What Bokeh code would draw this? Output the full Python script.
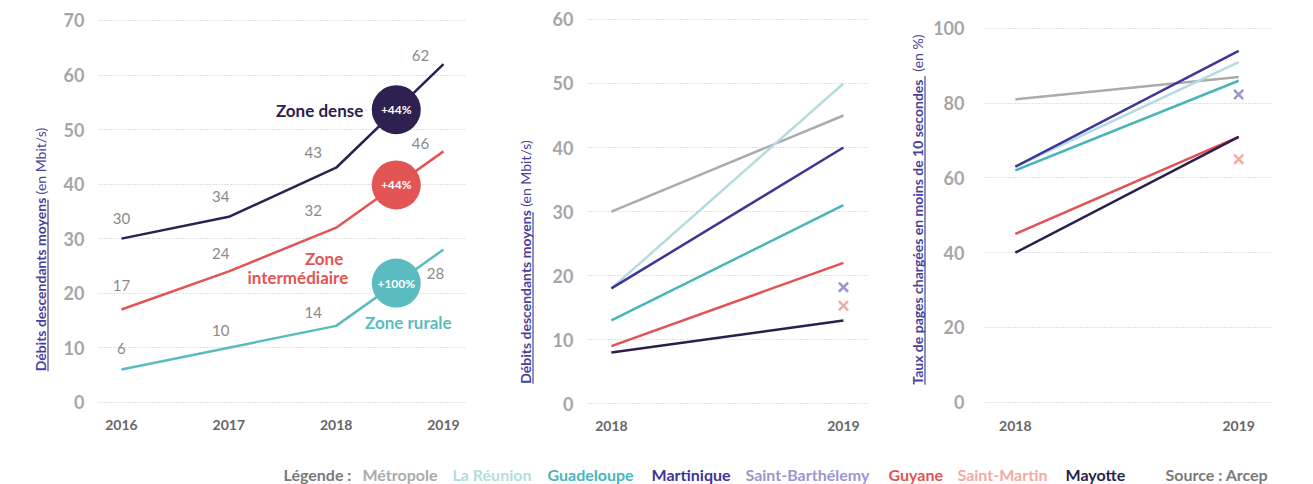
import numpy as np
from bokeh.plotting import figure
from bokeh.layouts import row, column
from bokeh.models import FixedTicker, Range1d
from bokeh.core.properties import value
from bokeh.embed import file_html
from bokeh.resources import INLINE

FONT = "Lato"

# ---------------- data ----------------
years_zones = [2016, 2017, 2018, 2019]
zone_dense = [30, 34, 43, 62]
zone_intermediaire = [17, 24, 32, 46]
zone_rurale = [6, 10, 14, 28]

years_dom = [2018, 2019]
territoires = ["Métropole", "La Réunion", "Guadeloupe", "Martinique",
               "Saint-Barthélemy", "Guyane", "Saint-Martin", "Mayotte"]
debit_2018 = [30, 18, 13, 18, None, 9, None, 8]
debit_2019 = [45, 50, 31, 40, 18.2, 22, 15.3, 13]
pages_2018 = [81, 63, 62, 63, None, 45, None, 40]
pages_2019 = [87, 91, 86, 94, 82.3, 71, 65, 71]

y_ticks_p1 = [0, 10, 20, 30, 40, 50, 60, 70]
y_ticks_p2 = [0, 10, 20, 30, 40, 50, 60]
y_ticks_p3 = [0, 20, 40, 60, 80, 100]

# ---------------- styles ----------------
ter_colors = ["#ababab", "#b2dcdf", "#46b6b9", "#3f3594",
              "#9c96cf", "#e25252", "#f4aaa1", "#2b1e4c"]
zone_colors = ["#2e2050", "#e35454", "#5bbcbf"]
TITLE_C = "#4b3f9a"
YTICK_C = "#a6a6a6"
XTICK_C = "#666666"
NUM_C = "#8a8a8a"
H = 452


def base_panel(width, xr, yr, yticks, xticks, bl, br, bb, ystand, xstand):
    p = figure(width=width, height=H, x_range=Range1d(*xr), y_range=Range1d(*yr),
               output_backend="svg", toolbar_location=None,
               min_border_left=bl, min_border_right=br, min_border_top=8,
               min_border_bottom=bb)
    p.outline_line_color = None
    p.xgrid.visible = False
    p.ygrid.grid_line_color = "#c2c2c2"
    p.ygrid.grid_line_dash = "1 2"
    p.ygrid.grid_line_width = 1
    p.yaxis.ticker = FixedTicker(ticks=yticks)
    p.xaxis.ticker = FixedTicker(ticks=xticks)
    p.xaxis.major_label_overrides = {t: str(t) for t in xticks}
    for ax in (p.xaxis, p.yaxis):
        ax.axis_line_color = None
        ax.major_tick_line_color = None
        ax.minor_tick_line_color = None
        ax.major_tick_in = 0
        ax.major_tick_out = 0
        ax.minor_tick_in = 0
        ax.minor_tick_out = 0
        ax.major_label_text_font = FONT
        ax.major_label_text_font_style = "bold"
    p.yaxis.major_label_text_font_size = "18px"
    p.yaxis.major_label_text_color = YTICK_C
    p.yaxis.major_label_standoff = ystand
    p.xaxis.major_label_text_font_size = "14px"
    p.xaxis.major_label_text_color = XTICK_C
    p.xaxis.major_label_standoff = xstand
    return p


def title_strip(width, x, y0, bold_text, bold_len, light_text, light_gap):
    s = figure(width=width, height=H, x_range=Range1d(0, width), y_range=Range1d(0, H),
               x_axis_type=None, y_axis_type=None, output_backend="svg",
               toolbar_location=None, min_border=0)
    s.outline_line_color = None
    s.grid.visible = False
    s.text(x=[x], y=[y0], text=[bold_text], angle=np.pi / 2, text_align="left",
           text_baseline="middle", text_font=value(FONT), text_font_style="bold",
           text_font_size="14px", text_color=TITLE_C)
    s.segment(x0=[x + 7.5], y0=[y0], x1=[x + 7.5], y1=[y0 + bold_len],
              line_color=TITLE_C, line_width=1.5, line_alpha=0.8)
    s.text(x=[x], y=[y0 + bold_len + light_gap], text=[light_text], angle=np.pi / 2,
           text_align="left", text_baseline="middle", text_font=value(FONT),
           text_font_size="14px", text_color=TITLE_C)
    return s


# ---------------- panel 1 ----------------
p1 = base_panel(424, (2015.786, 2019.205), (-1.52, 72.2), y_ticks_p1, years_zones,
                42, 15, 42, 14, 9)
series = [zone_dense, zone_intermediaire, zone_rurale]
label_dx = [[0, -8, -23, -23], [0, -8, -23, -23], [0, -8, -23, -8]]
label_dy = [[-20, -20, -15, -9], [-24, -18, -17, -8], [-21, -17, -13, 24]]
for vals, col, dx, dy in zip(series, zone_colors, label_dx, label_dy):
    p1.line(years_zones, vals, line_color=col, line_width=2.5)
    p1.text(x=years_zones, y=vals, text=[str(v) for v in vals], x_offset=dx, y_offset=dy,
            text_align="center", text_baseline="middle", text_font=value(FONT),
            text_font_size="15px", text_color=NUM_C)

t = 0.56
for vals, col in zip(series, zone_colors):
    cx = years_zones[-2] + t * (years_zones[-1] - years_zones[-2])
    cy = vals[-2] + t * (vals[-1] - vals[-2])
    growth = round((vals[-1] - vals[-2]) / vals[-2] * 100)
    p1.scatter([cx], [cy], size=49, fill_color=col, line_color=None)
    p1.text(x=[cx], y=[cy], text=[f"+{growth}%"], text_align="center",
            text_baseline="middle", text_font=value(FONT), text_font_style="bold",
            text_font_size="12px", text_color="white")

zone_text = [["Zone dense"], ["Zone", "intermédiaire"], ["Zone rurale"]]
zone_dx = [[-33], [-53, -48], [12]]
zone_dy = [[1], [74, 93], [39]]
zone_align = ["right", "right", "center"]
for vals, col, txts, dxs, dys, al in zip(series, zone_colors, zone_text, zone_dx, zone_dy, zone_align):
    cx = years_zones[-2] + t * (years_zones[-1] - years_zones[-2])
    cy = vals[-2] + t * (vals[-1] - vals[-2])
    p1.text(x=[cx] * len(txts), y=[cy] * len(txts), text=txts, x_offset=dxs, y_offset=dys,
            text_align=al, text_baseline="middle", text_font=value(FONT),
            text_font_style="bold", text_font_size="17px", text_color=col)


# ---------------- panels 2 & 3 ----------------
def dom_panel(p, v18, v19):
    order = [0, 1, 3, 2, 5, 7]
    for i in order:
        if v18[i] is None:
            continue
        p.line(years_dom, [v18[i], v19[i]], line_color=ter_colors[i], line_width=2.5)
    for i in range(len(territoires)):
        if v18[i] is None:
            p.scatter([years_dom[1]], [v19[i]], marker="x", size=13,
                      line_color=ter_colors[i], line_width=2.5)


p2 = base_panel(340, (2017.897, 2019.108), (-1.06, 61.71), y_ticks_p2, years_dom,
                47, 12, 30, 14, 10)
dom_panel(p2, debit_2018, debit_2019)

p3 = base_panel(383, (2017.862, 2019.147), (-2.24, 105.33), y_ticks_p3, years_dom,
                53, 42, 26, 20, 10)
dom_panel(p3, pages_2018, pages_2019)

s1 = title_strip(56, 40, 44, "Débits descendants moyens", 193, "(en Mbit/s)", 6)
s2 = title_strip(60, 45, 30, "Débits descendants moyens", 193, "(en Mbit/s)", 6)
s3 = title_strip(50, 37, 29, "Taux de pages chargées en moins de 10 secondes", 347,
                 "(en %)", 5)

# ---------------- legend ----------------
LW = 1313
LH = 32
lg = figure(width=LW, height=LH, x_range=Range1d(0, LW), y_range=Range1d(0, LH),
            x_axis_type=None, y_axis_type=None, output_backend="svg",
            toolbar_location=None, min_border=0)
lg.outline_line_color = None
lg.grid.visible = False
leg_x = [283, 362, 452, 547, 651, 745, 888, 957, 1065]
leg_x_source = 1165
leg_y = 10
lg.text(x=[leg_x[0]], y=[leg_y], text=["Légende :"], text_align="left", text_baseline="middle",
        text_font=value(FONT), text_font_style="bold", text_font_size="16px",
        text_color="#7a7a7a")
lg.text(x=leg_x[1:], y=[leg_y] * len(territoires), text=territoires, text_color=ter_colors,
        text_align="left", text_baseline="middle", text_font=value(FONT),
        text_font_style="bold", text_font_size="16px")
lg.text(x=[leg_x_source], y=[leg_y], text=["Source : Arcep"], text_align="left",
        text_baseline="middle", text_font=value(FONT), text_font_style="bold",
        text_font_size="16px", text_color="#7a7a7a")

layout = column(row(s1, p1, s2, p2, s3, p3), lg)
open("out.html", "w").write(file_html(layout, INLINE))
